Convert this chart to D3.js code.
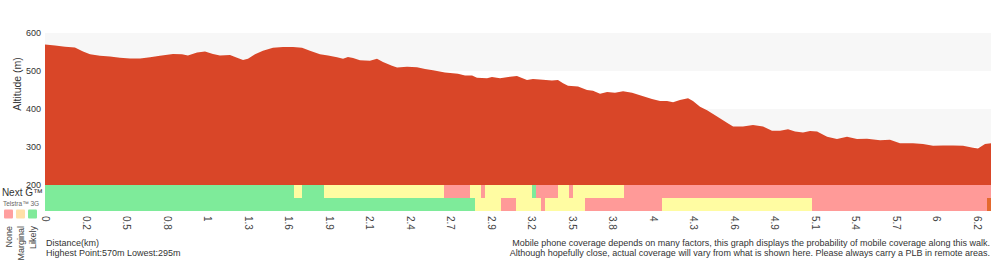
<!DOCTYPE html>
<html>
<head>
<meta charset="utf-8">
<script src="https://cdn.jsdelivr.net/npm/d3@7"></script>
<style>
  body { margin: 0; background: #fff; }
  text { font-family: "Liberation Sans", Arial, sans-serif; }
</style>
</head>
<body>
<script>
// elevation profile: distance (km) and altitude (m)
const distKm = [0, 0.067, 0.134, 0.200, 0.254, 0.301, 0.367, 0.434, 0.501, 0.568,
    0.635, 0.702, 0.768, 0.855, 0.915, 0.955, 1.016, 1.069, 1.122, 1.169,
    1.236, 1.283, 1.323, 1.356, 1.403, 1.456, 1.523, 1.590, 1.657, 1.717,
    1.770, 1.837, 1.891, 1.951, 1.991, 2.024, 2.058, 2.104, 2.171, 2.218,
    2.258, 2.318, 2.352, 2.419, 2.485, 2.539, 2.592, 2.672, 2.759, 2.806,
    2.853, 2.886, 2.953, 2.986, 3.040, 3.107, 3.153, 3.220, 3.260, 3.327,
    3.387, 3.427, 3.461, 3.494, 3.561, 3.621, 3.661, 3.708, 3.755, 3.808,
    3.862, 3.922, 3.975, 4.055, 4.109, 4.156, 4.196, 4.242, 4.296, 4.329,
    4.376, 4.423, 4.490, 4.556, 4.597, 4.663, 4.730, 4.797, 4.857, 4.911,
    4.964, 5.011, 5.064, 5.111, 5.158, 5.225, 5.291, 5.358, 5.425, 5.492,
    5.579, 5.645, 5.712, 5.799, 5.866, 5.933, 6.000, 6.066, 6.133, 6.200,
    6.233, 6.280, 6.320]
const altitude = [570, 567, 564, 562, 551, 544, 540, 538, 535, 533,
    533, 536, 540, 545, 544, 541, 549, 551, 545, 541,
    542, 535, 529, 532, 544, 553, 561, 563, 563, 561,
    553, 544, 541, 536, 532, 537, 534, 528, 527, 532,
    524, 514, 509, 511, 510, 505, 502, 496, 493, 488,
    488, 482, 481, 484, 481, 485, 487, 476, 479, 477,
    475, 476, 468, 461, 459, 450, 448, 440, 445, 443,
    447, 443, 436, 426, 421, 421, 418, 424, 428, 421,
    406, 397, 380, 364, 354, 354, 358, 354, 343, 343,
    347, 341, 338, 342, 341, 327, 321, 327, 321, 322,
    318, 319, 310, 310, 308, 303, 304, 304, 303, 298,
    296, 308, 310]

const totalKm = 6.32
const yTicks = [200, 300, 400, 500, 600]
const tickLabels = ['0', '0.2', '0.5', '0.8', '1', '1.3', '1.6', '1.9', '2.1', '2.4',
    '2.7', '2.9', '3.2', '3.5', '3.8', '4', '4.3', '4.6', '4.9', '5.1',
    '5.4', '5.7', '6', '6.2']
const tickStepKm = 0.2706   // a label every few track points

// coverage: segment edges in km and level of each segment
// levels: 0 none, 1 marginal, 2 likely, 3 no data
const nextGEdges = [0, 1.664, 1.717, 1.864, 2.666, 2.839, 2.913, 2.940, 3.254, 3.280,
    3.427, 3.501, 3.528, 3.868, 6.32]
const nextGLevels = [2, 1, 2, 1, 0, 1, 0, 1, 2, 0, 1, 0, 1, 0]
const threeGEdges = [0, 2.873, 3.047, 3.147, 3.314, 3.340, 3.608, 4.122, 5.124, 6.293, 6.32]
const threeGLevels = [2, 1, 0, 1, 0, 1, 0, 1, 0, 3]

const levelNames = ['None', 'Marginal', 'Likely']

const WIDTH = 1000
const HEIGHT = 260
const margin = { top: 33, left: 45, right: 9 }
const colors = ['#ff9a98', '#fffca2', '#7eeb9a', '#e4692e']
const legendColors = ['#ff9f9f', '#ffe0a8', '#80ea9a']

const svg = d3.select('body').append('svg')
    .attr('width', WIDTH)
    .attr('height', HEIGHT);

const x = d3.scaleLinear()
    .domain([0, totalKm])
    .range([margin.left, WIDTH - margin.right]);

const y = d3.scaleLinear()
    .domain([200, 600])
    .range([185, margin.top]);

const rows = d3.scaleBand()
    .domain(['nextG', '3G'])
    .range([185, 211]);

// grey bands behind the profile
svg.append('g')
    .selectAll('rect')
    .data([[500, 600], [300, 400]])
    .join('rect')
        .attr('x', x(0))
        .attr('y', d => y(d[1]))
        .attr('width', x(totalKm) - x(0))
        .attr('height', d => y(d[0]) - y(d[1]))
        .attr('fill', '#f7f7f7');

const profile = distKm.map((d, i) => [d, altitude[i]])

const area = d3.area()
    .x(d => x(d[0]))
    .y0(y(200))
    .y1(d => y(d[1]));

svg.append('path')
    .datum(profile)
    .attr('d', area)
    .attr('fill', '#d94628');

// y labels only
svg.append('g')
    .attr('transform', `translate(${margin.left - 4},0)`)
    .call(d3.axisLeft(y).tickValues(yTicks).tickSize(0).tickPadding(0))
    .call(g => g.select('.domain').remove())
    .selectAll('text')
        .attr('fill', '#333')
        .style('font-size', '9px')
        .style('font-family', '"Liberation Sans", Arial, sans-serif');

svg.append('text')
    .attr('transform', 'translate(21,84) rotate(-90)')
    .attr('text-anchor', 'middle')
    .attr('fill', '#333')
    .style('font-size', '10.5px')
    .text('Altitude (m)');

// coverage rows
function segments(edges, levels) {
    return levels.map((l, i) => ({ start: edges[i], end: edges[i + 1], level: l }))
}

const coverage = [
    { row: 'nextG', segs: segments(nextGEdges, nextGLevels) },
    { row: '3G', segs: segments(threeGEdges, threeGLevels) }
]

svg.append('g')
    .selectAll('g')
    .data(coverage)
    .join('g')
    .selectAll('rect')
    .data(d => d.segs.map(s => ({ ...s, row: d.row })))
    .join('rect')
        .attr('x', d => x(d.start))
        .attr('y', d => rows(d.row))
        .attr('width', d => x(d.end) - x(d.start))
        .attr('height', rows.bandwidth())
        .attr('fill', d => colors[d.level])
        .attr('shape-rendering', 'crispEdges');

// distance axis
svg.append('g')
    .attr('transform', `translate(0,211)`)
    .call(d3.axisBottom(x)
        .tickValues(tickLabels.map((t, i) => i * tickStepKm))
        .tickFormat((d, i) => tickLabels[i])
        .tickSize(0))
    .call(g => g.select('.domain').remove())
    .selectAll('text')
        .attr('transform', 'rotate(90)')
        .attr('x', 5)
        .attr('y', 0)
        .attr('dy', '0.35em')
        .attr('fill', '#444')
        .style('text-anchor', 'start')
        .style('font-size', '10px')
        .style('font-family', '"Liberation Sans", Arial, sans-serif');

// legend on the left
svg.append('text')
    .attr('x', 43)
    .attr('y', 196)
    .attr('text-anchor', 'end')
    .attr('fill', '#333')
    .style('font-size', '10px')
    .text('Next G™');

svg.append('text')
    .attr('x', 3)
    .attr('y', 206)
    .attr('fill', '#666')
    .style('font-size', '6.5px')
    .text('Telstra™ 3G');

const legendX = d3.scalePoint()
    .domain(levelNames)
    .range([8.5, 32.5]);

svg.append('g')
    .selectAll('rect')
    .data(levelNames)
    .join('rect')
        .attr('x', d => legendX(d) - 4.5)
        .attr('y', 209.5)
        .attr('width', 9)
        .attr('height', 9)
        .attr('rx', 1)
        .attr('fill', (d, i) => legendColors[i]);

svg.append('g')
    .selectAll('text')
    .data(levelNames)
    .join('text')
        .attr('transform', d => `translate(${legendX(d) + 3.5},226) rotate(-90)`)
        .attr('text-anchor', 'end')
        .attr('fill', '#444')
        .style('font-size', '9px')
        .text(d => d);

// notes
const notes = svg.append('g')
    .attr('fill', '#333')
    .style('font-size', '9px');

notes.append('text')
    .attr('x', 46)
    .attr('y', 246)
    .text('Distance(km)');

notes.append('text')
    .attr('x', 46)
    .attr('y', 255.5)
    .text('Highest Point:570m Lowest:295m');

notes.append('text')
    .attr('x', 990)
    .attr('y', 246)
    .attr('text-anchor', 'end')
    .text('Mobile phone coverage depends on many factors, this graph displays the probability of mobile coverage along this walk.');

notes.append('text')
    .attr('x', 990)
    .attr('y', 256)
    .attr('text-anchor', 'end')
    .text('Although hopefully close, actual coverage will vary from what is shown here. Please always carry a PLB in remote areas.');
</script>
</body>
</html>
